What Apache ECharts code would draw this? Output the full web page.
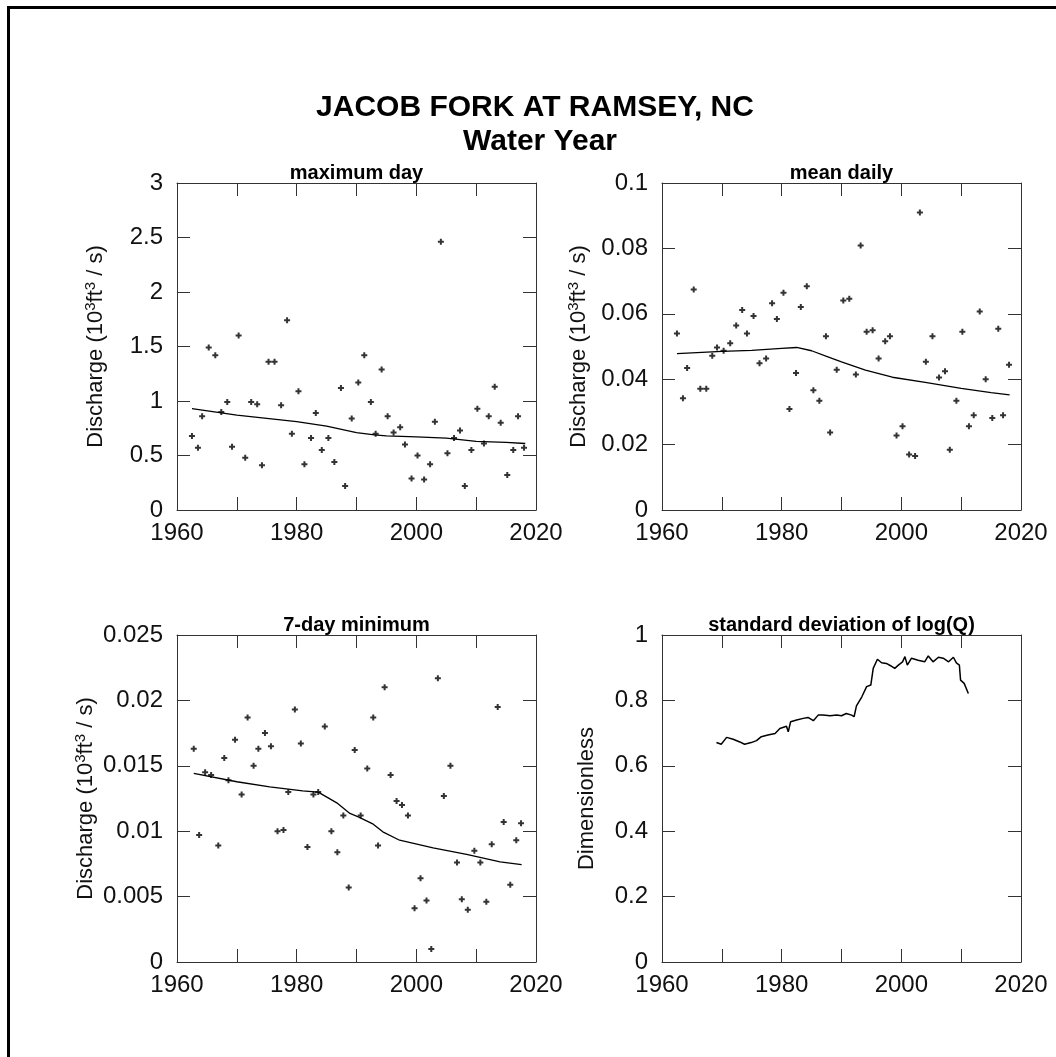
<!DOCTYPE html>
<html>
<head>
<meta charset="utf-8">
<script src="https://cdn.jsdelivr.net/npm/echarts@6/dist/echarts.min.js"></script>
<style>
html,body{margin:0;padding:0;background:#fff;}
#chart{width:1056px;height:1057px;}
</style>
</head>
<body>
<div id="chart"></div>
<script>
// ---- data ----
const yearsAnnual = [1962.5,1963.5,1964.2,1965.3,1966.4,1967.4,1968.4,1969.2,1970.3,1971.4,1972.4,1973.4,1974.2,1975.3,1976.3,1977.4,1978.4,1979.2,1980.3,1981.3,1982.4,1983.2,1984.2,1985.3,1986.3,1987.4,1988.1,1989.2,1990.3,1991.3,1992.4,1993.2,1994.2,1995.2,1996.2,1997.3,1998.1,1999.2,2000.2,2001.3,2002.3,2003.1,2004.1,2005.2,2006.3,2007.3,2008.1,2009.2,2010.2,2011.3,2012.1,2013.1,2014.1,2015.2,2016.2,2017.0,2018.0];
const maxDay = [0.68,0.57,0.86,1.49,1.42,0.90,0.99,0.58,1.60,0.48,0.99,0.97,0.41,1.36,1.36,0.96,1.74,0.70,1.09,0.42,0.66,0.89,0.55,0.66,0.44,1.12,0.22,0.84,1.17,1.42,0.99,0.70,1.29,0.86,0.71,0.76,0.60,0.29,0.50,0.28,0.42,0.81,2.46,0.52,0.66,0.73,0.22,0.55,0.93,0.61,0.86,1.13,0.80,0.32,0.55,0.86,0.57];
const maxDayTrendX = [1962.5,1970,1975,1980,1985,1990,1993,1995,2000,2005,2010,2015,2018.2];
const maxDayTrendY = [0.93,0.87,0.84,0.81,0.77,0.71,0.69,0.68,0.67,0.66,0.63,0.62,0.61];

const meanDaily = [0.0540,0.0342,0.0434,0.0674,0.0371,0.0371,0.0472,0.0497,0.0487,0.0510,0.0564,0.0612,0.0540,0.0593,0.0449,0.0463,0.0632,0.0584,0.0664,0.0309,0.0419,0.0621,0.0684,0.0366,0.0334,0.0531,0.0237,0.0429,0.0641,0.0646,0.0414,0.0809,0.0545,0.0550,0.0463,0.0516,0.0531,0.0228,0.0256,0.0170,0.0165,0.0910,0.0453,0.0531,0.0405,0.0424,0.0184,0.0334,0.0545,0.0256,0.0290,0.0607,0.0400,0.0281,0.0554,0.0290,0.0444];
const meanTrendX = [1962.5,1970,1975,1980,1982.5,1985,1987.5,1990,1994,1998.5,2004,2010,2015,2018.1];
const meanTrendY = [0.0478,0.0485,0.0488,0.0494,0.0497,0.0487,0.0470,0.0453,0.0428,0.0406,0.0390,0.0372,0.0359,0.0352];

const yearsMin7 = [1962.8,1963.7,1964.7,1965.7,1966.9,1967.9,1968.6,1969.7,1970.8,1971.8,1972.8,1973.6,1974.7,1975.7,1976.8,1977.8,1978.6,1979.7,1980.7,1981.8,1982.8,1983.6,1984.7,1985.8,1986.8,1987.8,1988.7,1989.7,1990.7,1991.8,1992.8,1993.6,1994.7,1995.7,1996.7,1997.6,1998.6,1999.7,2000.7,2001.7,2002.5,2003.6,2004.6,2005.7,2006.8,2007.6,2008.6,2009.7,2010.7,2011.7,2012.6,2013.6,2014.6,2015.7,2016.7,2017.5];
const min7 = [0.0163,0.0097,0.0145,0.0143,0.0089,0.0156,0.0139,0.0170,0.0128,0.0187,0.0150,0.0163,0.0175,0.0165,0.0100,0.0101,0.0130,0.0193,0.0167,0.0088,0.0128,0.0130,0.0180,0.0100,0.0084,0.0112,0.0057,0.0162,0.0112,0.0148,0.0187,0.0089,0.0210,0.0143,0.0123,0.0120,0.0112,0.0041,0.0064,0.0047,0.0010,0.0217,0.0127,0.0150,0.0076,0.0048,0.0040,0.0085,0.0076,0.0046,0.0090,0.0195,0.0107,0.0059,0.0093,0.0106];
const min7TrendX = [1962.8,1970,1975.5,1981,1983.6,1986.7,1988.9,1990.3,1992.8,1994.4,1997.2,2002.8,2008.4,2014,2017.6];
const min7TrendY = [0.01442,0.01378,0.01339,0.01309,0.01299,0.01217,0.01136,0.0111,0.01054,0.00995,0.00931,0.00873,0.00822,0.00765,0.00745];

const sdX = [1969.1,1969.9,1970.8,1971.9,1973.0,1973.8,1974.9,1975.8,1976.6,1977.7,1978.9,1979.7,1980.8,1981.1,1981.5,1982.5,1983.6,1984.4,1985.3,1986.1,1986.9,1988.1,1989.2,1990.0,1990.8,1991.7,1992.1,1992.5,1993.4,1994.2,1994.9,1995.3,1996.0,1996.7,1997.5,1998.2,1998.9,1999.5,2000.2,2000.6,2001.0,2001.7,2002.8,2003.9,2004.5,2005.3,2006.2,2007.0,2007.9,2008.7,2009.2,2009.7,2009.9,2010.5,2011.2];
const sdY = [0.671,0.666,0.687,0.681,0.673,0.666,0.671,0.677,0.689,0.694,0.699,0.714,0.721,0.704,0.735,0.740,0.745,0.748,0.738,0.755,0.755,0.753,0.755,0.753,0.760,0.755,0.750,0.783,0.811,0.842,0.847,0.898,0.926,0.915,0.913,0.906,0.898,0.908,0.918,0.934,0.908,0.929,0.923,0.918,0.936,0.918,0.932,0.929,0.918,0.932,0.915,0.908,0.862,0.852,0.821];

const xTickLabels = [1960,1980,2000,2020];
const mainTitle = 'JACOB FORK AT RAMSEY, NC';
const subTitle = 'Water Year';
const panelTitles = ['maximum day','mean daily','7-day minimum','standard deviation of log(Q)'];
const dischargeLabel = 'Discharge (10{sup|3}ft{sup|3} / s)';
const dimLabel = 'Dimensionless';

// ---- layout ----
const FONT = 'Liberation Sans, Arial, sans-serif';
const grids = [
  {left:177, top:183, width:359, height:327},
  {left:662, top:183, width:359, height:327},
  {left:177, top:635, width:359, height:327},
  {left:662, top:635, width:359, height:327}
];
const yCfg = [
  {max:3, interval:0.5, name:dischargeLabel, gap:68},
  {max:0.1, interval:0.02, name:dischargeLabel, gap:70},
  {max:0.025, interval:0.005, name:dischargeLabel, gap:68},
  {max:1, interval:0.2, name:dimLabel, gap:62}
];
const AX = '#333';
const xAxes = [], yAxes = [];
grids.forEach((g,i)=>{
  const base = {
    type:'value', gridIndex:i, min:1960, max:2020, interval:10,
    axisLine:{show:true, onZero:false, lineStyle:{color:AX, width:1}},
    axisTick:{show:true, inside:true, length:13, lineStyle:{color:AX, width:1}},
    splitLine:{show:false}
  };
  xAxes.push(Object.assign({}, base, {position:'bottom',
    axisLabel:{show:true, margin:11, fontSize:24, color:'#111', fontFamily:FONT,
      formatter:v=> xTickLabels.indexOf(v)>=0 ? String(v) : ''}}));
  xAxes.push(Object.assign({}, base, {position:'top', axisLabel:{show:false}}));
  const yb = {
    type:'value', gridIndex:i, min:0, max:yCfg[i].max, interval:yCfg[i].interval,
    axisLine:{show:true, onZero:false, lineStyle:{color:AX, width:1}},
    axisTick:{show:true, inside:true, length:13, lineStyle:{color:AX, width:1}},
    splitLine:{show:false}
  };
  yAxes.push(Object.assign({}, yb, {position:'left',
    axisLabel:{show:true, margin:14, fontSize:24, color:'#111', fontFamily:FONT},
    name:yCfg[i].name, nameLocation:'middle', nameGap:yCfg[i].gap, nameRotate:90,
    nameTextStyle:{fontSize:22, color:'#111', fontFamily:FONT, lineHeight:26,
      rich:{sup:{fontSize:15, fontFamily:FONT, color:'#111', verticalAlign:'top', lineHeight:15}}}
  }));
  yAxes.push(Object.assign({}, yb, {position:'right', axisLabel:{show:false}}));
});

const PLUS = 'path://M2,0H4V2H6V4H4V6H2V4H0V2H2Z';
const pair = (xs,ys)=> xs.map((x,k)=>[x,ys[k]]);
function scatter(i,xs,ys){
  return {type:'scatter', xAxisIndex:2*i, yAxisIndex:2*i, data:pair(xs,ys),
    symbol:PLUS, symbolSize:6, itemStyle:{color:'#000'}, silent:true, animation:false};
}
function line(i,xs,ys,w){
  return {type:'line', xAxisIndex:2*i, yAxisIndex:2*i, data:pair(xs,ys),
    showSymbol:false, symbol:'none', lineStyle:{color:'#000', width:w||1.3}, silent:true, animation:false};
}
const series = [
  scatter(0,yearsAnnual,maxDay), line(0,maxDayTrendX,maxDayTrendY),
  scatter(1,yearsAnnual,meanDaily), line(1,meanTrendX,meanTrendY),
  scatter(2,yearsMin7,min7), line(2,min7TrendX,min7TrendY),
  line(3,sdX,sdY,1.5)
];

const graphics = [
  {type:'line', shape:{x1:7, y1:7.5, x2:1056, y2:7.5}, style:{stroke:'#000', lineWidth:3}},
  {type:'line', shape:{x1:8.5, y1:6, x2:8.5, y2:1057}, style:{stroke:'#000', lineWidth:3}},
  {type:'text', x:535, y:108, style:{text:mainTitle, font:'bold 30px '+FONT, fill:'#000', textAlign:'center', textVerticalAlign:'middle'}},
  {type:'text', x:540, y:142, style:{text:subTitle, font:'bold 30px '+FONT, fill:'#000', textAlign:'center', textVerticalAlign:'middle'}}
];
grids.forEach((g,i)=>{
  graphics.push({type:'text', x:g.left+g.width/2, y:g.top-10,
    style:{text:panelTitles[i], font:'bold 20px '+FONT, fill:'#000', textAlign:'center', textVerticalAlign:'middle'}});
});

const chart = echarts.init(document.getElementById('chart'), null, {renderer:'canvas'});
chart.setOption({
  backgroundColor:'#fff',
  animation:false,
  grid:grids.map(g=>Object.assign({containLabel:false}, g)),
  xAxis:xAxes, yAxis:yAxes,
  series:series,
  graphic:graphics
});
</script>
</body>
</html>
